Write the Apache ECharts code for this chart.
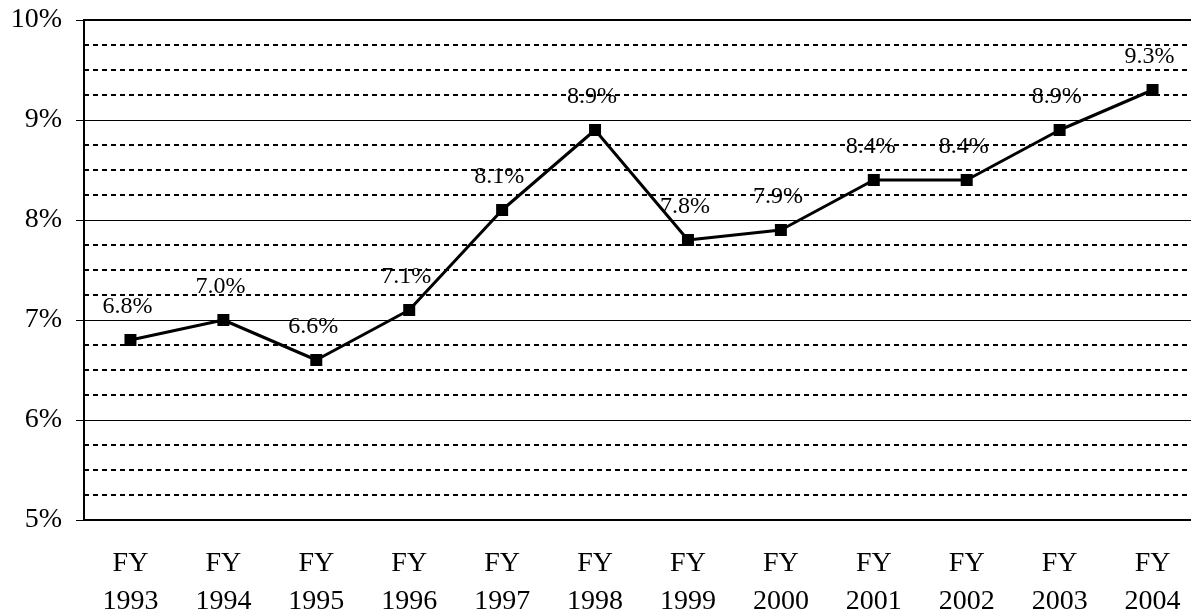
<!DOCTYPE html>
<html style="height: 100%">
<head>
    <meta charset="utf-8">
    <title>FY rate</title>
    <style>
        html, body { margin: 0; padding: 0; background: #fff; }
    </style>
</head>
<body style="height: 100%">
    <div id="container" style="width: 1191px; height: 614px"></div>
    <script type="text/javascript" src="https://cdn.jsdelivr.net/npm/echarts@6/dist/echarts.min.js"></script>
    <script type="text/javascript">
        var years  = ['FY\n1993', 'FY\n1994', 'FY\n1995', 'FY\n1996', 'FY\n1997', 'FY\n1998',
                      'FY\n1999', 'FY\n2000', 'FY\n2001', 'FY\n2002', 'FY\n2003', 'FY\n2004'];
        var rates  = [6.8, 7.0, 6.6, 7.1, 8.1, 8.9, 7.8, 7.9, 8.4, 8.4, 8.9, 9.3];
        var yMin   = 5;
        var yMax   = 10;
        var yStep  = 1;

        var serif = 'Liberation Serif';
        var dom     = document.getElementById("container");
        var myChart = echarts.init(dom);

        var option = {
            animation: false,
            backgroundColor: '#fff',
            grid: {
                left: 84,
                top: 20,
                right: -8,
                bottom: 94,
                outerBoundsMode: 'none',
                containLabel: false,
                show: true,
                borderColor: '#000',
                borderWidth: 2
            },
            xAxis: {
                type: 'category',
                data: years,
                boundaryGap: true,
                axisLine: { lineStyle: { color: '#000', width: 2 } },
                axisTick: { length: 8, lineStyle: { color: '#000', width: 1 } },
                axisLabel: {
                    color: '#000',
                    fontFamily: serif,
                    fontSize: 28,
                    lineHeight: 38,
                    margin: 25,
                    interval: 0
                }
            },
            yAxis: {
                type: 'value',
                min: yMin,
                max: yMax,
                interval: yStep,
                axisLine: { show: true, lineStyle: { color: '#000', width: 2 } },
                axisTick: { show: true, length: 8, lineStyle: { color: '#000', width: 1 } },
                axisLabel: {
                    color: '#000',
                    fontFamily: serif,
                    fontSize: 28,
                    margin: 22,
                    formatter: function (v) { return v + '%'; }
                },
                splitLine: { show: true, lineStyle: { color: '#000', width: 1 } },
                minorTick: { show: false, splitNumber: 4 },
                minorSplitLine: { show: true, lineStyle: { color: '#000', width: 2, type: [5, 4] } }
            },
            series: [{
                type: 'line',
                data: rates,
                symbol: 'rect',
                symbolSize: 12,
                lineStyle: { color: '#000', width: 3 },
                itemStyle: { color: '#000' },
                label: {
                    show: true,
                    position: 'top',
                    distance: 15,
                    offset: [-3, 0],
                    color: '#000',
                    fontFamily: serif,
                    fontSize: 24,
                    formatter: function (p) { return p.value.toFixed(1) + '%'; }
                }
            }]
        };

        myChart.setOption(option, true);
    </script>
</body>
</html>
